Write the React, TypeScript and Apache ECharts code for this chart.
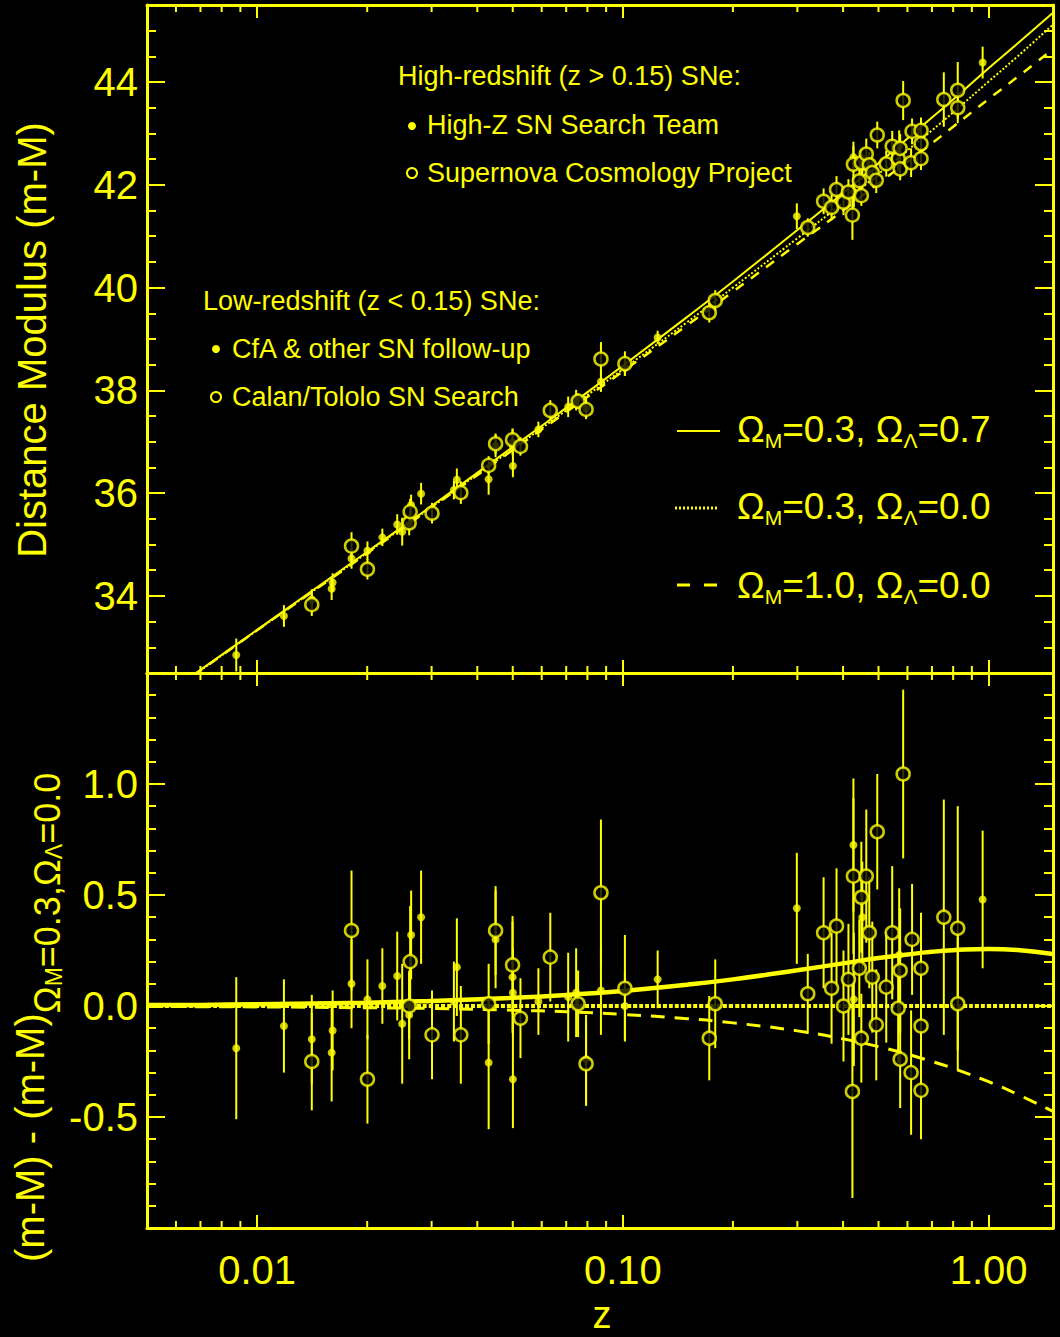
import React, { useEffect, useRef } from 'react';
import * as echarts from 'echarts';

const Y = '#ffff00';
const FONT = "'Liberation Sans', Arial, sans-serif";

const X_MIN = 0.005;
const X_MAX = 1.5;
const TOP_MIN = 32.5;
const TOP_MAX = 45.5;
const BOT_MIN = -1.0;
const BOT_MAX = 1.5;

const xTickLabelValues = [0.01, 0.1, 1];
const minorTickZ = [0.006, 0.007, 0.008, 0.009, 0.02, 0.03, 0.04, 0.05, 0.06, 0.07, 0.08, 0.09, 0.2, 0.3, 0.4, 0.5, 0.6, 0.7, 0.8, 0.9];

// model curves
const modelZ = [0.005, 0.007, 0.01, 0.02, 0.03, 0.05, 0.07, 0.1, 0.15, 0.2, 0.3, 0.4, 0.5, 0.6, 0.7, 0.8, 1.0, 1.2, 1.5];
const muLambda = [31.82, 32.56, 33.34, 34.86, 35.75, 36.9, 37.66, 38.48, 39.43, 40.12, 41.12, 41.84, 42.42, 42.9, 43.31, 43.66, 44.27, 44.75, 45.35];
const muOpen = [31.82, 32.55, 33.33, 34.84, 35.73, 36.86, 37.61, 38.41, 39.33, 40.0, 40.96, 41.65, 42.21, 42.67, 43.06, 43.41, 44.01, 44.5, 45.12];
const muEdS = [31.82, 32.55, 33.33, 34.83, 35.72, 36.84, 37.58, 38.37, 39.27, 39.92, 40.85, 41.5, 42.03, 42.45, 42.81, 43.13, 43.67, 44.1, 44.64];
const resLambda = [0.004, 0.005, 0.008, 0.015, 0.023, 0.037, 0.05, 0.068, 0.096, 0.12, 0.161, 0.192, 0.216, 0.232, 0.244, 0.251, 0.257, 0.252, 0.234];
const resOpen = [0, 0, 0, 0, 0, 0, 0, 0, 0, 0, 0, 0, 0, 0, 0, 0, 0, 0, 0];
const resEdS = [-0.002, -0.003, -0.004, -0.008, -0.011, -0.019, -0.026, -0.038, -0.057, -0.076, -0.112, -0.148, -0.183, -0.217, -0.25, -0.281, -0.341, -0.398, -0.475];

// Low-z, CfA & other SN follow-up (filled)
const lowFilledZ = [0.00877, 0.01184, 0.01411, 0.01609, 0.01599, 0.01812, 0.02003, 0.022, 0.02416, 0.02493, 0.02605, 0.02637, 0.02808, 0.03452, 0.03517, 0.04296, 0.04488, 0.04994, 0.05005, 0.05005, 0.05876, 0.07088, 0.07452, 0.07933, 0.08712, 0.1013, 0.1245];
const lowFilledMu = [32.85, 33.61, 33.93, 34.26, 34.14, 34.73, 34.88, 35.14, 35.39, 35.25, 35.38, 35.77, 35.99, 36.06, 36.26, 36.27, 36.92, 36.99, 36.92, 36.53, 37.24, 37.68, 37.81, 37.65, 38.17, 38.44, 39.03];
const lowFilledRes = [-0.19, -0.09, -0.15, -0.11, -0.21, 0.1, 0.03, 0.09, 0.135, -0.08, -0.04, 0.32, 0.4, 0.02, 0.175, -0.255, 0.3, 0.13, 0.06, -0.33, 0.02, 0.04, 0.06, -0.24, 0.07, 0.0, 0.12];
const lowFilledErr = [0.32, 0.21, 0.2, 0.18, 0.22, 0.2, 0.18, 0.17, 0.2, 0.27, 0.2, 0.2, 0.21, 0.18, 0.22, 0.3, 0.22, 0.25, 0.2, 0.22, 0.15, 0.2, 0.2, 0.2, 0.2, 0.15, 0.13];

// Low-z, Calan/Tololo SN Search (open)
const lowOpenZ = [0.01411, 0.01812, 0.02003, 0.02605, 0.02621, 0.03008, 0.03606, 0.04296, 0.04488, 0.04994, 0.05249, 0.06333, 0.07545, 0.07933, 0.08712, 0.1013];
const lowOpenMu = [33.83, 34.97, 34.52, 35.42, 35.64, 35.61, 36.01, 36.54, 36.96, 37.04, 36.91, 37.61, 37.79, 37.63, 38.61, 38.52];
const lowOpenRes = [-0.25, 0.34, -0.33, 0.0, 0.2, -0.13, -0.13, 0.01, 0.34, 0.185, -0.055, 0.22, 0.01, -0.26, 0.51, 0.08];
const lowOpenErr = [0.22, 0.27, 0.2, 0.15, 0.25, 0.2, 0.22, 0.18, 0.2, 0.22, 0.18, 0.2, 0.15, 0.19, 0.33, 0.24];

// High-z, High-Z SN Search Team (filled)
const highFilledZ = [0.299, 0.427, 0.4281, 0.4516, 0.5696, 0.9632];
const highFilledMu = [41.39, 42.54, 41.86, 42.35, 42.76, 44.38];
const highFilledRes = [0.44, 0.725, 0.03, 0.4, 0.23, 0.48];
const highFilledErr = [0.25, 0.3, 0.3, 0.25, 0.3, 0.31];

// High-z, Supernova Cosmology Project (open)
const highOpenZ = [0.1723, 0.1789, 0.3203, 0.3539, 0.3721, 0.3839, 0.4011, 0.4138, 0.4243, 0.427, 0.4432, 0.4488, 0.4488, 0.463, 0.4718, 0.4808, 0.493, 0.4961, 0.525, 0.5451, 0.566, 0.5731, 0.5731, 0.584, 0.6139, 0.6177, 0.6535, 0.6535, 0.6535, 0.7543, 0.8235, 0.8235];
const highOpenMu = [39.51, 39.75, 41.17, 41.68, 41.56, 41.91, 41.66, 41.86, 41.41, 42.4, 42.08, 42.43, 41.79, 42.6, 42.39, 42.24, 42.09, 42.97, 42.41, 42.75, 42.51, 42.71, 42.31, 43.64, 42.43, 43.04, 43.06, 42.8, 42.51, 43.66, 43.84, 43.5];
const highOpenRes = [-0.145, 0.01, 0.055, 0.33, 0.08, 0.36, 0.0, 0.12, -0.385, 0.585, 0.17, 0.49, -0.145, 0.585, 0.33, 0.13, -0.085, 0.785, 0.085, 0.33, -0.01, 0.16, -0.24, 1.045, -0.3, 0.3, 0.17, -0.09, -0.38, 0.4, 0.35, 0.01];
const highOpenErr = [0.19, 0.2, 0.18, 0.25, 0.25, 0.26, 0.25, 0.25, 0.48, 0.35, 0.22, 0.25, 0.2, 0.3, 0.25, 0.25, 0.25, 0.26, 0.25, 0.3, 0.25, 0.28, 0.22, 0.38, 0.28, 0.25, 0.25, 0.3, 0.22, 0.53, 0.55, 0.3];

const zip = (a: number[], b: number[]) => a.map((v, i) => [v, b[i]]);
const bars = (z: number[], v: number[], e: number[]) => z.map((x, i) => [x, v[i] - e[i], v[i] + e[i]]);

function errorSeries(xi: number, yi: number, z: number[], v: number[], e: number[]) {
  return {
    type: 'custom',
    xAxisIndex: xi,
    yAxisIndex: yi,
    z: 3,
    clip: true,
    silent: true,
    encode: { x: 0, y: [1, 2] },
    data: bars(z, v, e),
    renderItem: (params: any, api: any) => {
      const p1 = api.coord([api.value(0), api.value(1)]);
      const p2 = api.coord([api.value(0), api.value(2)]);
      return {
        type: 'line',
        shape: { x1: p1[0], y1: p1[1], x2: p2[0], y2: p2[1] },
        style: { stroke: Y, lineWidth: 2 },
      };
    },
  };
}

function filledSeries(xi: number, yi: number, z: number[], v: number[]) {
  return {
    type: 'scatter', xAxisIndex: xi, yAxisIndex: yi, z: 4, silent: true,
    symbol: 'circle', symbolSize: 8,
    itemStyle: { color: Y },
    data: zip(z, v),
  };
}

function openSeries(xi: number, yi: number, z: number[], v: number[]) {
  return {
    type: 'scatter', xAxisIndex: xi, yAxisIndex: yi, z: 4, silent: true,
    symbol: 'circle', symbolSize: 13,
    itemStyle: { color: '#000', borderColor: Y, borderWidth: 2.5 },
    data: zip(z, v),
  };
}

function minorTicksSeries(xi: number, yi: number, yRef: number) {
  return {
    type: 'custom', xAxisIndex: xi, yAxisIndex: yi, z: 6, silent: true,
    encode: { x: 0, y: 1 },
    data: minorTickZ.map((z) => [z, yRef]),
    renderItem: (params: any, api: any) => {
      const cs = params.coordSys;
      const x = api.coord([api.value(0), yRef])[0];
      const b = cs.y + cs.height;
      return {
        type: 'group',
        children: [
          { type: 'line', shape: { x1: x, y1: b, x2: x, y2: b - 7 }, style: { stroke: Y, lineWidth: 2 } },
          { type: 'line', shape: { x1: x, y1: cs.y, x2: x, y2: cs.y + 7 }, style: { stroke: Y, lineWidth: 2 } },
        ],
      };
    },
  };
}

function lineSeries(xi: number, yi: number, v: number[], width: number, type: any) {
  return {
    type: 'line', xAxisIndex: xi, yAxisIndex: yi, z: 2, silent: true,
    smooth: true, showSymbol: false, symbol: 'none', clip: true,
    lineStyle: { color: Y, width, type },
    data: zip(modelZ, v),
  };
}

const xFormatter = (v: number) => {
  const hit = xTickLabelValues.some((t) => Math.abs(v - t) / t < 1e-6);
  return hit ? v.toFixed(2) : '';
};

function xAxis(grid: number, position: string, showLabels: boolean) {
  return {
    type: 'log', logBase: 10, gridIndex: grid, position, min: X_MIN, max: X_MAX,
    axisLine: { show: true, onZero: false, lineStyle: { color: Y, width: 3 } },
    axisTick: { show: true, inside: true, length: 13, lineStyle: { color: Y, width: 2 } },
    minorTick: { show: false },
    splitLine: { show: false },
    axisLabel: {
      show: showLabels, color: Y, fontSize: 40, fontFamily: FONT, margin: 22,
      formatter: xFormatter,
    },
  };
}

function yAxis(grid: number, position: string, showLabels: boolean, min: number, max: number, extra: any, formatter: any, minorSplit: number) {
  return {
    type: 'value', gridIndex: grid, position, min, max, ...extra,
    axisLine: { show: true, onZero: false, lineStyle: { color: Y, width: 3 } },
    axisTick: { show: true, inside: true, length: 18, lineStyle: { color: Y, width: 2 } },
    minorTick: { show: true, splitNumber: minorSplit, length: 9, lineStyle: { color: Y, width: 2 } },
    splitLine: { show: false },
    minorSplitLine: { show: false },
    axisLabel: { show: showLabels, color: Y, fontSize: 40, fontFamily: FONT, margin: 9, formatter },
  };
}

const topFormatter = (v: number) => (Number.isInteger(v) ? String(v) : '');
const botFormatter = (v: number) => (Math.abs(v - BOT_MAX) < 1e-6 || Math.abs(v - BOT_MIN) < 1e-6 ? '' : v.toFixed(1));

function txt(text: string, x: number, y: number, size: number, family: string, align = 'left') {
  return {
    type: 'text', x, y, silent: true,
    style: { text, fill: Y, font: `${size}px ${family}`, align, textAlign: align, verticalAlign: 'middle', textVerticalAlign: 'middle' },
  };
}

const omegaRich = {
  o: { fontSize: 37, fontFamily: FONT, lineHeight: 44, fill: Y },
  s: { fontSize: 21, fontFamily: FONT, lineHeight: 20, verticalAlign: 'bottom', fill: Y },
};

function omegaText(text: string, x: number, y: number) {
  return {
    type: 'text', x, y, silent: true,
    style: { text, fill: Y, rich: omegaRich, align: 'left', textAlign: 'left', verticalAlign: 'middle', textVerticalAlign: 'middle' },
  };
}

export default function App() {
  const ref = useRef<HTMLDivElement>(null);
  useEffect(() => {
    if (!ref.current) return;
    const chart = echarts.init(ref.current, undefined, { renderer: 'svg' });
    const option: any = {
      animation: false,
      backgroundColor: '#000000',
      grid: [
        { left: 147, right: 7, top: 5, height: 668 },
        { left: 147, right: 7, top: 673, height: 555 },
      ],
      xAxis: [
        xAxis(0, 'bottom', false),
        xAxis(0, 'top', false),
        xAxis(1, 'bottom', true),
        xAxis(1, 'top', false),
      ],
      yAxis: [
        yAxis(0, 'left', true, TOP_MIN, TOP_MAX, { splitNumber: 6 }, topFormatter, 4),
        yAxis(0, 'right', false, TOP_MIN, TOP_MAX, { splitNumber: 6 }, topFormatter, 4),
        yAxis(1, 'left', true, BOT_MIN, BOT_MAX, { interval: 0.5 }, botFormatter, 5),
        yAxis(1, 'right', false, BOT_MIN, BOT_MAX, { interval: 0.5 }, botFormatter, 5),
      ],
      series: [
        minorTicksSeries(0, 0, 40),
        minorTicksSeries(2, 2, 0),
        lineSeries(0, 0, muLambda, 2, 'solid'),
        lineSeries(0, 0, muOpen, 2, [2, 2]),
        lineSeries(0, 0, muEdS, 2.5, [10, 9]),
        lineSeries(2, 2, resLambda, 4.5, 'solid'),
        lineSeries(2, 2, resOpen, 4, [4, 2]),
        lineSeries(2, 2, resEdS, 3, [14, 10]),
        errorSeries(0, 0, lowFilledZ, lowFilledMu, lowFilledErr),
        errorSeries(0, 0, lowOpenZ, lowOpenMu, lowOpenErr),
        errorSeries(0, 0, highFilledZ, highFilledMu, highFilledErr),
        errorSeries(0, 0, highOpenZ, highOpenMu, highOpenErr),
        errorSeries(2, 2, lowFilledZ, lowFilledRes, lowFilledErr),
        errorSeries(2, 2, lowOpenZ, lowOpenRes, lowOpenErr),
        errorSeries(2, 2, highFilledZ, highFilledRes, highFilledErr),
        errorSeries(2, 2, highOpenZ, highOpenRes, highOpenErr),
        filledSeries(0, 0, lowFilledZ, lowFilledMu),
        openSeries(0, 0, lowOpenZ, lowOpenMu),
        filledSeries(0, 0, highFilledZ, highFilledMu),
        openSeries(0, 0, highOpenZ, highOpenMu),
        filledSeries(2, 2, lowFilledZ, lowFilledRes),
        openSeries(2, 2, lowOpenZ, lowOpenRes),
        filledSeries(2, 2, highFilledZ, highFilledRes),
        openSeries(2, 2, highOpenZ, highOpenRes),
      ],
      graphic: [
        txt('High-redshift (z > 0.15) SNe:', 398, 76, 27, FONT),
        { type: 'circle', shape: { cx: 412, cy: 126, r: 4 }, style: { fill: Y }, silent: true },
        txt('High-Z SN Search Team', 427, 125, 27, FONT),
        { type: 'circle', shape: { cx: 412, cy: 173, r: 5 }, style: { fill: '#000', stroke: Y, lineWidth: 2 }, silent: true },
        txt('Supernova Cosmology Project', 427, 173, 27, FONT),
        txt('Low-redshift (z < 0.15) SNe:', 203, 301, 27, FONT),
        { type: 'circle', shape: { cx: 216, cy: 349, r: 4 }, style: { fill: Y }, silent: true },
        txt('CfA & other SN follow-up', 232, 349, 27, FONT),
        { type: 'circle', shape: { cx: 216, cy: 397, r: 5 }, style: { fill: '#000', stroke: Y, lineWidth: 2 }, silent: true },
        txt('Calan/Tololo SN Search', 232, 397, 27, FONT),
        { type: 'line', shape: { x1: 677, y1: 431, x2: 720, y2: 431 }, style: { stroke: Y, lineWidth: 2 }, silent: true },
        { type: 'line', shape: { x1: 675, y1: 508, x2: 717, y2: 508 }, style: { stroke: Y, lineWidth: 3, lineDash: [2, 2] }, silent: true },
        { type: 'line', shape: { x1: 677, y1: 585, x2: 717, y2: 585 }, style: { stroke: Y, lineWidth: 3, lineDash: [13, 14] }, silent: true },
        omegaText('{o|Ω}{s|M}{o|=0.3, Ω}{s|Λ}{o|=0.7}', 737, 429),
        omegaText('{o|Ω}{s|M}{o|=0.3, Ω}{s|Λ}{o|=0.0}', 737, 506),
        omegaText('{o|Ω}{s|M}{o|=1.0, Ω}{s|Λ}{o|=0.0}', 737, 585),
        {
          type: 'text', x: 32, y: 340, rotation: Math.PI / 2, silent: true,
          style: { text: 'Distance Modulus (m-M)', fill: Y, font: `40px ${FONT}`, align: 'center', textAlign: 'center', verticalAlign: 'middle', textVerticalAlign: 'middle' },
        },
        {
          type: 'text', x: 30, y: 1262, rotation: Math.PI / 2, silent: true,
          style: {
            text: '{m|(m-M) - (m-M)}{s|Ω}{ss|M}{s|=0.3,Ω}{ss|Λ}{s|=0.0}',
            fill: Y, align: 'left', textAlign: 'left', verticalAlign: 'middle', textVerticalAlign: 'middle',
            rich: {
              m: { fontSize: 40, fontFamily: FONT, lineHeight: 70, fill: Y },
              s: { fontSize: 36, fontFamily: FONT, lineHeight: 34, verticalAlign: 'bottom', fill: Y },
              ss: { fontSize: 23, fontFamily: FONT, lineHeight: 16, verticalAlign: 'bottom', fill: Y },
            },
          },
        },
        txt('z', 602, 1315, 38, FONT, 'center'),
      ],
    };
    chart.setOption(option);
    return () => chart.dispose();
  }, []);
  return (
    <div
      ref={ref}
      style={{ position: 'absolute', left: 0, top: 0, width: 1060, height: 1337, background: '#000' }}
    />
  );
}
